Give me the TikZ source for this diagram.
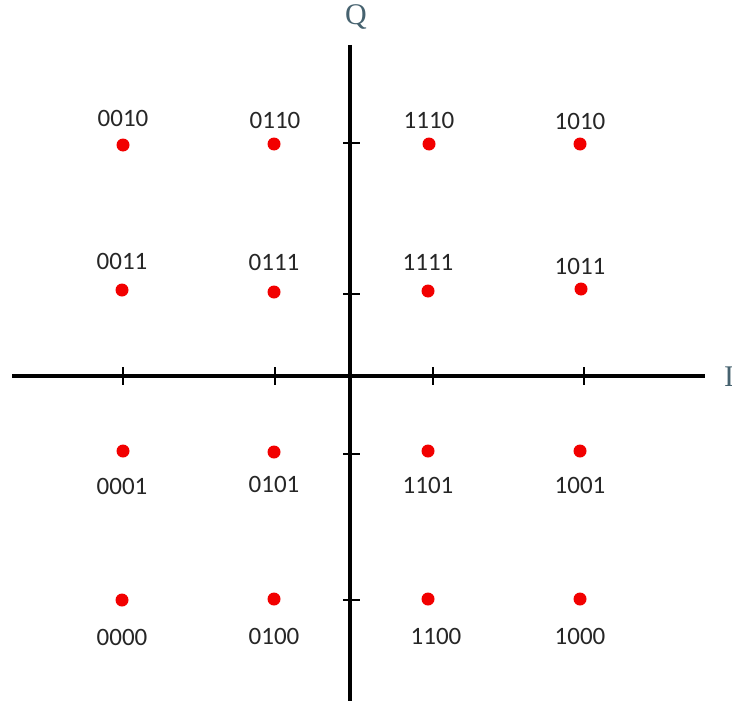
\documentclass[tikz,border=0pt]{standalone}
\usepackage{fontspec}
\setmainfont{Carlito}
\newfontfamily\axisfont{Liberation Serif}
\usepackage{xcolor}
\definecolor{axislabel}{HTML}{46626F}
\usetikzlibrary{positioning}

\begin{document}
\begin{tikzpicture}[
    x=0.5pt, y=-0.5pt,
    dot/.style={circle, fill=red!95!black, draw=none, inner sep=0pt, minimum size=6.5pt},
    bits/.style={inner sep=0pt, font=\fontsize{12.5}{15}\selectfont, text=black!85},
    axislbl/.style={inner sep=0pt, font=\axisfont\fontsize{15}{18}\selectfont, text=axislabel},
    axis/.style={line width=1.8pt},
    tick/.style={line width=0.8pt}
  ]
  \useasboundingbox (0,0) rectangle (732,706);
  % axes
  \coordinate (west)  at (12,376);
  \coordinate (east)  at (705,376);
  \coordinate (north) at (350,45);
  \coordinate (south) at (350,701);
  \draw[axis] (west) -- (east);
  \draw[axis] (north) -- (south);
  \node[axislbl] (qlabel) at (356,17) {Q};
  \node[axislbl] (ilabel) at (729,377) {I};
  % ticks
  \draw[tick] (123,367) -- (123,385);
  \draw[tick] (275,367) -- (275,385);
  \draw[tick] (433,367) -- (433,385);
  \draw[tick] (584,367) -- (584,385);
  \draw[tick] (343,143) -- (360,143);
  \draw[tick] (343,294) -- (360,294);
  \draw[tick] (343,454) -- (360,454);
  \draw[tick] (343,600) -- (360,600);
  % constellation points
  \node[dot] (d0010) at (123,145) {};
  \node[dot] (d0110) at (274,144) {};
  \node[dot] (d1110) at (429,144) {};
  \node[dot] (d1010) at (580,144) {};
  \node[dot] (d0011) at (122,290) {};
  \node[dot] (d0111) at (274,292) {};
  \node[dot] (d1111) at (428,291) {};
  \node[dot] (d1011) at (581,289) {};
  \node[dot] (d0001) at (123,451) {};
  \node[dot] (d0101) at (274,452) {};
  \node[dot] (d1101) at (428,451) {};
  \node[dot] (d1001) at (580,451) {};
  \node[dot] (d0000) at (122,600) {};
  \node[dot] (d0100) at (274,599) {};
  \node[dot] (d1100) at (428,599) {};
  \node[dot] (d1000) at (580,599) {};
  % bit labels
  \node[bits] (l0010) at (123,118) {0010};
  \node[bits] (l0110) at (275,120) {0110};
  \node[bits] (l1110) at (429,120) {1110};
  \node[bits] (l1010) at (580,121) {1010};
  \node[bits] (l0011) at (122,261) {0011};
  \node[bits] (l0111) at (274,262) {0111};
  \node[bits] (l1111) at (428,262) {1111};
  \node[bits] (l1011) at (580,266) {1011};
  \node[bits] (l0001) at (122,486) {0001};
  \node[bits] (l0101) at (274,484) {0101};
  \node[bits] (l1101) at (428,485) {1101};
  \node[bits] (l1001) at (580,485) {1001};
  \node[bits] (l0000) at (122,637) {0000};
  \node[bits] (l0100) at (274,636) {0100};
  \node[bits] (l1100) at (436,636) {1100};
  \node[bits] (l1000) at (580,636) {1000};
\end{tikzpicture}
\end{document}
